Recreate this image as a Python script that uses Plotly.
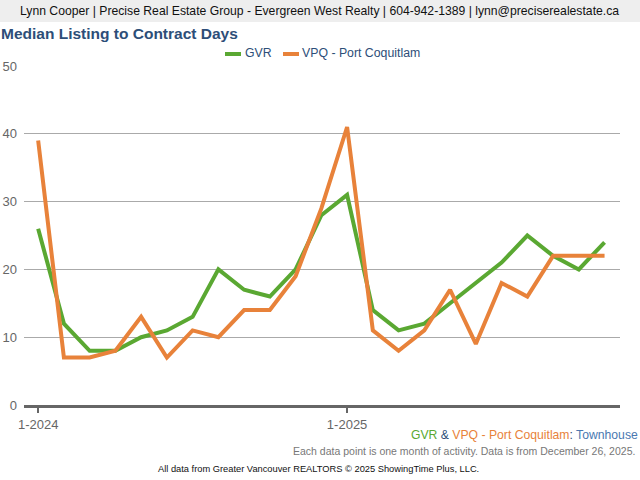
import plotly.graph_objects as go

# months Jan 2024 .. Nov 2025
months = [f"{m}-{y}" for y in (2024, 2025) for m in range(1, 13)][:23]
gvr = [26, 12, 8, 8, 10, 11, 13, 20, 17, 16, 20, 28,
       31, 14, 11, 12, 15, 18, 21, 25, 22, 20, 24]
vpq = [39, 7, 7, 8, 13, 7, 11, 10, 14, 14, 19, 29,
       41, 11, 8, 11, 17, 9, 18, 16, 22, 22, 22]
y_ticks = [0, 10, 20, 30, 40, 50]
x_ticks = ["1-2024", "1-2025"]
series_names = ["GVR", "VPQ - Port Coquitlam"]

GREEN = "#5aa832"
ORANGE = "#e8823a"
NAVY = "#2d4e78"
FONT = "Liberation Sans"

# plot area in pixels
L, R, T, B = 24, 620, 66, 405
PW, PH = R - L, B - T


def px(x):
    return (x - L) / PW


def py(y):
    return (B - y) / PH


fig = go.Figure()
fig.add_trace(go.Scatter(x=months, y=gvr, name=series_names[0], mode="lines",
                         line=dict(color=GREEN, width=4), showlegend=False))
fig.add_trace(go.Scatter(x=months, y=vpq, name=series_names[1], mode="lines",
                         line=dict(color=ORANGE, width=4), showlegend=False))

fig.update_layout(
    width=640, height=480,
    margin=dict(l=L, r=640 - R, t=T, b=480 - B, autoexpand=False),
    paper_bgcolor="white", plot_bgcolor="white",
    font=dict(family=FONT, size=13, color="#666666"),
    xaxis=dict(type="category", range=[-0.55, 22.6], tickmode="array",
               tickvals=x_ticks, ticktext=x_ticks, showgrid=False,
               showline=True, linecolor="#666666", linewidth=3,
               ticks="outside", ticklen=5, tickwidth=2, tickcolor="#666666",
               tickfont=dict(size=13, color="#666666"), zeroline=False,
               automargin=False),
    yaxis=dict(range=[0, 50], tickvals=y_ticks, showgrid=True,
               gridcolor="#aaaaaa", gridwidth=1, zeroline=False,
               tickfont=dict(size=13, color="#666666"), ticks="",
               ticklabelstandoff=6, automargin=False),
)

# small legend with short swatches, like the original
for (x0, x1, tx), name, col in zip([(225, 241, 243), (283, 299, 300)], series_names, [GREEN, ORANGE]):
    fig.add_shape(type="line", xref="paper", yref="paper", x0=px(x0), x1=px(x1),
                  y0=py(54), y1=py(54), line=dict(color=col, width=4))
    fig.add_annotation(text=name, xref="paper", yref="paper", x=px(tx), y=py(53),
                       xanchor="left", yanchor="middle", showarrow=False,
                       font=dict(size=12.3, color=NAVY))

# header band
fig.add_shape(type="rect", xref="paper", yref="paper", x0=px(0), x1=px(640),
              y0=py(22), y1=py(0), fillcolor="#eeeeee", line_width=0, layer="below")
fig.add_annotation(text="Lynn Cooper | Precise Real Estate Group - Evergreen West Realty | 604-942-1389 | lynn@preciserealestate.ca",
                   xref="paper", yref="paper", x=px(319), y=py(11),
                   xanchor="center", yanchor="middle", showarrow=False,
                   font=dict(size=12.2, color="#111111"))
fig.add_annotation(text="<b>Median Listing to Contract Days</b>",
                   xref="paper", yref="paper", x=px(-1), y=py(33),
                   xanchor="left", yanchor="middle", showarrow=False,
                   font=dict(size=15.5, color=NAVY))
fig.add_annotation(text=f"<span style='color:{GREEN}'>GVR</span> <span style='color:{NAVY}'>&</span> "
                        f"<span style='color:{ORANGE}'>VPQ - Port Coquitlam</span>"
                        f"<span style='color:{NAVY}'>: </span><span style='color:#4a78b0'>Townhouse</span>",
                   xref="paper", yref="paper", x=px(640), y=py(435),
                   xanchor="right", yanchor="middle", showarrow=False,
                   font=dict(size=12.2))
fig.add_annotation(text="Each data point is one month of activity. Data is from December 26, 2025.",
                   xref="paper", yref="paper", x=px(637), y=py(451),
                   xanchor="right", yanchor="middle", showarrow=False,
                   font=dict(size=10.5, color="#777777"))
fig.add_annotation(text="All data from Greater Vancouver REALTORS © 2025 ShowingTime Plus, LLC.",
                   xref="paper", yref="paper", x=px(156), y=py(469),
                   xanchor="left", yanchor="middle", showarrow=False,
                   font=dict(size=9.3, color="#111111"))

# the page body has an 8px default margin; drop it so the figure fills the window
fig.write_html("out.html", config={"displayModeBar": False},
               post_script="document.body.style.margin='0';")
